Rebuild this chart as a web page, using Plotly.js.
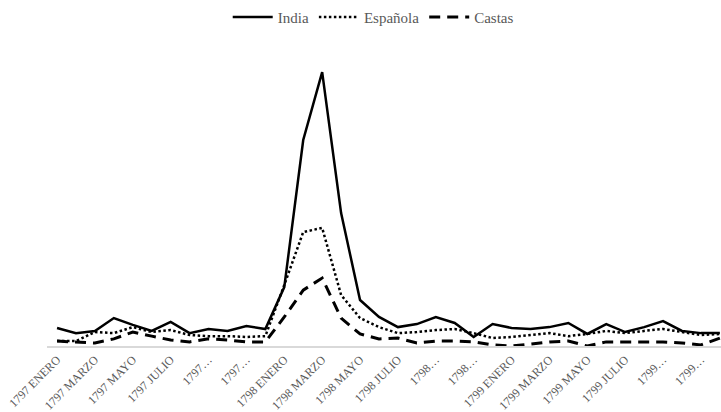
<!DOCTYPE html>
<html>
<head>
<meta charset="utf-8">
<script src="https://cdn.plot.ly/plotly-3.0.1.min.js"></script>
<style>html,body{margin:0;padding:0;background:#fff;}#chart{width:721px;height:412px;}</style>
</head>
<body>
<div id="chart"></div>
<script>
const months = [
  "1797 ENERO","1797 FEBRERO","1797 MARZO","1797 ABRIL","1797 MAYO","1797 JUNIO",
  "1797 JULIO","1797 AGOSTO","1797 SEPTIEMBRE","1797 OCTUBRE","1797 NOVIEMBRE","1797 DICIEMBRE",
  "1798 ENERO","1798 FEBRERO","1798 MARZO","1798 ABRIL","1798 MAYO","1798 JUNIO",
  "1798 JULIO","1798 AGOSTO","1798 SEPTIEMBRE","1798 OCTUBRE","1798 NOVIEMBRE","1798 DICIEMBRE",
  "1799 ENERO","1799 FEBRERO","1799 MARZO","1799 ABRIL","1799 MAYO","1799 JUNIO",
  "1799 JULIO","1799 AGOSTO","1799 SEPTIEMBRE","1799 OCTUBRE","1799 NOVIEMBRE","1799 DICIEMBRE"
];
const tickMonths = [
  "1797 ENERO","1797 MARZO","1797 MAYO","1797 JULIO","1797 SEPTIEMBRE","1797 NOVIEMBRE",
  "1798 ENERO","1798 MARZO","1798 MAYO","1798 JULIO","1798 SEPTIEMBRE","1798 NOVIEMBRE",
  "1799 ENERO","1799 MARZO","1799 MAYO","1799 JULIO","1799 SEPTIEMBRE","1799 NOVIEMBRE"
];
const tickLabels = [
  "1797 ENERO","1797 MARZO","1797 MAYO","1797 JULIO","1797…","1797…",
  "1798 ENERO","1798 MARZO","1798 MAYO","1798 JULIO","1798…","1798…",
  "1799 ENERO","1799 MARZO","1799 MAYO","1799 JULIO","1799…","1799…"
];
const india = [6.6,4.7,5.5,10.2,7.7,5.5,8.8,4.7,6.2,5.5,7.3,6.2,
  21.5,75.2,100,48.5,16.8,10.6,6.9,8.0,10.6,8.4,3.3,8.0,
  6.6,6.2,6.9,8.4,4.4,8.0,5.1,6.9,9.1,5.5,4.7,4.7];
const espanola = [1.8,1.8,5.1,4.7,6.9,5.1,5.8,4.0,3.6,3.6,3.3,3.6,
  22.3,41.6,43.1,18.6,10.2,6.9,4.7,5.1,5.8,6.2,4.7,2.9,
  3.3,4.0,4.7,3.6,4.4,5.5,4.7,5.5,6.2,5.1,4.0,4.4];
const castas = [1.8,1.5,1.1,2.6,5.1,3.6,2.2,1.5,2.6,2.2,1.5,1.5,
  10.6,20.4,24.8,10.2,4.4,2.6,2.9,1.1,1.8,1.8,1.5,0.4,
  0,0.7,1.5,1.8,0,1.5,1.5,1.5,1.5,1.1,0.4,2.9];

const traces = [
  {x: months, y: india, name: "India", type: "scatter", mode: "lines",
   line: {color: "#000000", width: 2.5}},
  {x: months, y: espanola, name: "Española", type: "scatter", mode: "lines",
   line: {color: "#000000", width: 2.5, dash: "2.5px,2.5px"}},
  {x: months, y: castas, name: "Castas", type: "scatter", mode: "lines",
   line: {color: "#000000", width: 3, dash: "11px,7px"}}
];

const layout = {
  width: 721, height: 412,
  paper_bgcolor: "#ffffff", plot_bgcolor: "#ffffff",
  margin: {l: 47, r: 0, t: 60, b: 66},
  font: {family: "Liberation Serif, serif", color: "#595959", size: 12},
  showlegend: true,
  legend: {orientation: "h", x: 0.484, xanchor: "center", yref: "container", y: 0.958, yanchor: "middle",
    itemwidth: 40, font: {size: 15, color: "#595959"}},
  xaxis: {type: "category", categoryorder: "array", categoryarray: months,
    range: [-0.53, 35.06], tickmode: "array", tickvals: tickMonths, ticktext: tickLabels,
    tickangle: -45, showgrid: false, zeroline: false, showline: true, linecolor: "#d9d9d9", linewidth: 2,
    ticks: "", tickfont: {size: 12, color: "#595959"}},
  yaxis: {range: [0, 104.4], visible: false, showgrid: false, zeroline: false}
};

Plotly.newPlot("chart", traces, layout, {displayModeBar: false, staticPlot: true});
</script>
</body>
</html>
